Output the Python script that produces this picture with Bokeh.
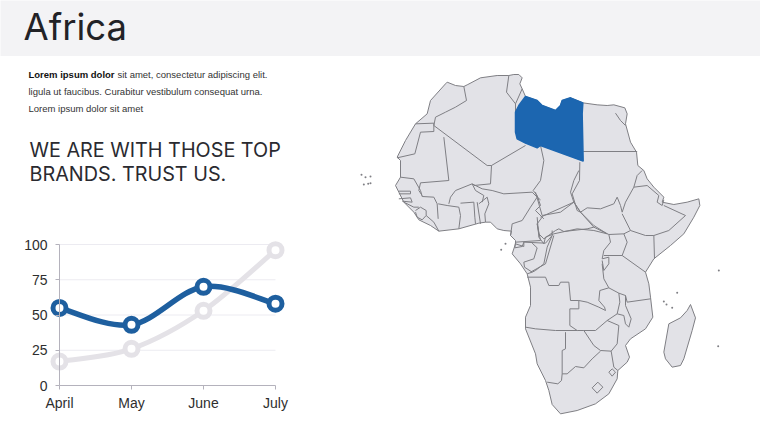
from bokeh.plotting import figure
from bokeh.layouts import column, row
from bokeh.models import Range1d, LinearAxis, FixedTicker
from bokeh.core.properties import value
from bokeh.embed import file_html
from bokeh.resources import INLINE

# ---- chart data
months = ["April", "May", "June", "July"]
blue_values = [55, 43, 70, 58]
grey_values = [17, 26, 53, 96]
y_ticks = [0, 25, 50, 75, 100]

# ---- texts
title_text = "Africa"
intro_bold = "Lorem ipsum dolor"
intro_rest = "sit amet, consectetur  adipiscing elit."
intro_2 = "ligula ut faucibus.  Curabitur vestibulum  consequat  urna."
intro_3 = "Lorem ipsum dolor sit amet"
heading_1 = "WE ARE WITH THOSE TOP"
heading_2 = "BRANDS. TRUST US."

# ---- map geometry, traced in four views of the map: (left, top) of each view, 3 units per pixel
NORTH = (380, 70)
SOUTH = (480, 230)
WEST = (355, 160)
EAST = (530, 170)

def v(view, pts):
    return [(view[0] + a / 3, view[1] + b / 3) for a, b in pts]

coast = (
    v(NORTH, [(200,35),(225,45),(250,48),(262,42),(300,22),(350,15),(385,15),(400,12),(415,12),(425,22),(418,40),(425,55),(435,78),
              (470,90),(485,105),(525,120),(540,105),(545,90),(570,82),(607,97),(650,103),(680,105),(700,103),(733,112),(740,130),
              (735,160),(750,215),(768,245),(772,285),(790,300),(800,325),(820,350),(850,380),(845,395),(880,402),(920,395),(955,385)])
    + v(EAST, [(505,85),(508,105),(490,140),(460,190),(420,225),(370,265),(345,305)])
    + v(SOUTH, [(495,125),(505,160),(510,200),(517,260),(495,295),(450,325),(435,345),(447,380),(440,395),(412,420),(410,445),
                (385,490),(345,520),(290,540),(240,550),(215,522),(205,480),(195,450),(170,400),(165,370),(135,295),(135,260),
                (150,225),(150,170),(140,130),(120,100),(95,70),(105,40)])
    + v(WEST, [(480,240),(465,225),(468,212),(445,210),(425,205),(405,185),(390,185),(370,188),(310,205),(250,212),(225,195),
               (190,178),(175,155),(145,125),(130,95),(120,75),(135,50),(135,0)])
    + v(NORTH, [(50,260),(75,210),(105,160),(140,130),(150,90),(195,40)])
)
libya = v(NORTH, [(435,78),(470,90),(485,105),(525,120),(540,105),(545,90),(570,82),(607,97),(605,130),(608,272),(480,225),
                  (470,232),(435,218),(410,205),(405,185),(405,125),(415,105)])
madagascar = v(SOUTH, [(630,222),(645,262),(635,300),(610,385),(600,405),(575,410),(555,385),(550,365),(565,280),(600,262),(620,240)])

borders = [
    v(NORTH, [(250,48),(258,90),(225,110),(195,125),(165,140),(160,165),(320,285),(333,285),(435,225)]),
    v(NORTH, [(105,160),(160,158),(160,183),(120,185),(103,250),(50,262)]),
    v(NORTH, [(385,15),(378,65),(405,100),(405,125)]),
    v(NORTH, [(425,55),(405,100)]),
    v(NORTH, [(190,200),(205,330),(120,337),(115,360),(125,375)]),
    v(NORTH, [(333,285),(330,340),(280,345)]),
    v(NORTH, [(480,225),(490,270),(480,330),(458,360),(470,375)]),
    v(NORTH, [(608,243),(770,243)]),
    v(NORTH, [(705,128),(720,150),(735,165)]),
    v(NORTH, [(598,275),(597,330),(575,370),(590,420),(600,425)]),
    v(WEST, [(135,50),(175,55),(195,90),(200,108),(235,110),(245,130),(248,175)]),
    v(WEST, [(130,92),(165,92),(165,100),(130,100)]),
    v(WEST, [(130,115),(165,112),(170,125),(140,122)]),
    v(WEST, [(145,125),(175,140),(190,140)]),
    v(WEST, [(180,150),(195,140),(212,150),(212,165),(200,178),(185,170),(180,155)]),
    v(WEST, [(212,165),(235,185),(250,212)]),
    v(WEST, [(248,130),(275,135),(310,140),(315,165),(310,205)]),
    v(WEST, [(280,130),(285,110),(300,90),(350,70),(360,90),(385,105),(380,125)]),
    v(WEST, [(315,128),(355,125),(358,170),(360,190)]),
    v(WEST, [(365,125),(375,190)]),
    v(WEST, [(370,130),(395,110),(400,130),(388,160),(390,185)]),
    v(WEST, [(350,70),(380,85),(410,90),(445,100),(530,95),(545,110),(555,118)]),
    v(WEST, [(545,110),(525,140),(500,180),(470,190),(465,225)]),
    v(WEST, [(545,105),(555,135),(540,150),(565,175)]),
    v(WEST, [(560,170),(545,190),(555,240),(480,245)]),
    v(WEST, [(480,245),(478,262),(500,258),(505,245)]),
    v(SOUTH, [(105,40),(130,48),(130,35),(195,38)]),
    v(SOUTH, [(155,38),(170,52),(160,85),(130,95),(132,110),(155,125),(140,130)]),
    v(SOUTH, [(195,38),(215,15),(215,0)]),
    v(SOUTH, [(215,15),(200,50),(190,100),(165,120),(155,125)]),
    v(NORTH, [(470,440),(475,500),(490,520),(495,500),(520,490),(590,475),(640,480),(680,490)]),
    v(NORTH, [(480,440),(580,395),(600,425),(640,465),(680,490)]),
    v(EAST, [(15,65),(35,135),(90,125),(130,95),(120,65),(130,30),(145,0)]),
    v(EAST, [(130,95),(150,125),(170,112),(210,115),(250,100),(260,80),(270,105),(275,125),(285,95),(310,50),(320,15),(335,0)]),
    v(EAST, [(310,50),(350,45),(385,75),(380,95),(395,105),(400,88)]),
    v(EAST, [(400,105),(465,135),(415,180),(370,195),(345,195),(300,180),(275,130)]),
    v(EAST, [(370,195),(372,265)]),
    v(EAST, [(235,192),(280,190),(300,180)]),
    v(EAST, [(280,190),(290,215),(275,255),(345,305)]),
    v(EAST, [(190,170),(235,192),(240,215),(220,240),(215,265),(235,260),(235,280),(220,300),(215,270)]),
    v(EAST, [(220,255),(275,255)]),
    v(EAST, [(150,125),(190,170)]),
    v(EAST, [(40,205),(75,180),(85,175),(100,183),(170,175),(190,170)]),
    v(EAST, [(20,160),(25,190),(40,205)]),
    v(EAST, [(70,195),(45,280),(0,305)]),
    v(SOUTH, [(365,100),(370,145),(385,172),(415,188),(435,195),(440,215),(510,205)]),
    v(SOUTH, [(140,140),(195,140),(205,165),(235,165),(240,155),(265,155),(270,210),(295,210),(295,235),(268,235),(268,285),
              (290,300),(225,300),(165,295),(135,290)]),
    v(SOUTH, [(295,210),(320,215),(355,230),(375,240),(372,230),(355,210),(358,180),(385,172)]),
    v(SOUTH, [(415,188),(418,215),(410,250),(380,270),(345,300),(310,300),(290,300)]),
    v(SOUTH, [(435,195),(435,225),(452,265),(445,290),(435,280),(430,255),(410,250)]),
    v(SOUTH, [(380,270),(415,285),(410,340),(392,362)]),
    v(SOUTH, [(310,300),(340,345),(360,360),(392,362),(400,410),(412,420)]),
    v(SOUTH, [(255,305),(255,355),(245,360),(245,430),(260,430),(285,408),(310,412),(335,385),(360,362)]),
    v(SOUTH, [(245,430),(243,450),(232,460),(200,455)]),
    v(SOUTH, [(385,425),(395,415),(405,425),(395,437),(385,425)]),
    v(SOUTH, [(335,472),(352,455),(367,470),(350,488),(335,472)]),
]
islands = (v(WEST, [(18,43),(30,50),(45,48),(25,72),(38,70),(45,68),(450,250),(437,268)])
           + v(SOUTH, [(550,213),(558,222),(575,232),(590,187),(713,347),(715,120)]))

# ---- colours
BAND = "#f3f3f5"
INK = "#222226"
LAND = "#e2e2e7"
EDGE = "#7f7f84"
LIBYA = "#1c66b0"
BLUE = "#1e5f9f"
GREY = "#e4e2e7"

# ---- header
head = figure(width=760, height=56, x_range=Range1d(0, 760), y_range=Range1d(56, 0), toolbar_location=None,
              output_backend="svg", min_border=0, outline_line_color=None, x_axis_location=None, y_axis_location=None,
              background_fill_color=BAND, border_fill_color=BAND)
head.grid.visible = False
head.text([23], [26], text=[title_text], text_font=value("Inter"), text_font_size="36.5px", text_color=INK,
          text_baseline="middle")

# ---- text block
block = figure(width=340, height=169, x_range=Range1d(0, 340), y_range=Range1d(225, 56), toolbar_location=None,
               output_backend="svg", min_border=0, outline_line_color=None, x_axis_location=None, y_axis_location=None)
block.grid.visible = False
arial = value("Liberation Sans")
block.text([28], [74], text=[intro_bold], text_font=arial, text_font_style="bold", text_font_size="9.5px", text_color="#111",
           text_baseline="middle")
block.text([117], [74], text=[intro_rest], text_font=arial, text_font_size="9.5px", text_color="#333", text_baseline="middle")
block.text([28, 28], [90.5, 107.5], text=[intro_2, intro_3], text_font=arial, text_font_size="9.5px", text_color="#333",
           text_baseline="middle")
block.text([29, 29], [149, 173], text=[heading_1, heading_2], text_font=value("Inter"), text_font_size="19.8px", text_color="#2a2a30",
           text_baseline="middle")

# ---- line chart: frame fills the figure so that rings and labels are not clipped
PX_X = 72.0
PX_Y = 1.41
chart = figure(width=340, height=203, toolbar_location=None, output_backend="svg",
               x_range=Range1d(-59 / PX_X, 281 / PX_X), y_range=Range1d(-43 / PX_Y, 100 + 19 / PX_Y),
               min_border=0, outline_line_color=None, x_axis_location=None, y_axis_location=None)
chart.grid.visible = False
idx = list(range(len(months)))
xa = LinearAxis(fixed_location=0, ticker=FixedTicker(ticks=idx), bounds=(0, 3),
                major_label_overrides={i: m for i, m in enumerate(months)})
ya = LinearAxis(fixed_location=0, ticker=FixedTicker(ticks=y_ticks), bounds=(0, 100), major_label_standoff=8)
chart.add_layout(xa, "below")
chart.add_layout(ya, "left")
for a in (xa, ya):
    a.axis_line_color = "#b4b2bc"
    a.major_tick_line_color = "#b4b2bc"
    a.minor_tick_line_color = None
    a.major_tick_out = 4
    a.major_tick_in = 0
    a.major_label_text_font = "Liberation Sans"
    a.major_label_text_font_size = "14px"
    a.major_label_text_color = "#2e2e2e"
chart.segment([0] * 4, y_ticks[1:], [3] * 4, y_ticks[1:], line_color="#ecebf1", line_width=1)

def smooth(xs, ys, color, width):
    tx = [0.5 * (xs[min(i + 1, 3)] - xs[max(i - 1, 0)]) for i in range(4)]
    ty = [0.5 * (ys[min(i + 1, 3)] - ys[max(i - 1, 0)]) for i in range(4)]
    chart.bezier(xs[:-1], ys[:-1], xs[1:], ys[1:],
                 [xs[i] + tx[i] / 3 for i in range(3)], [ys[i] + ty[i] / 3 for i in range(3)],
                 [xs[i + 1] - tx[i + 1] / 3 for i in range(3)], [ys[i + 1] - ty[i + 1] / 3 for i in range(3)],
                 line_color=color, line_width=width)

smooth(idx, grey_values, GREY, 5)
chart.scatter(idx, grey_values, size=13, fill_color="white", line_color=GREY, line_width=5)
smooth(idx, blue_values, BLUE, 5.5)
chart.scatter(idx, blue_values, size=13, fill_color="white", line_color=BLUE, line_width=5)

# ---- map
atlas = figure(width=420, height=372, x_range=Range1d(340, 760), y_range=Range1d(428, 56), toolbar_location=None,
               output_backend="svg", min_border=0, outline_line_color=None, x_axis_location=None, y_axis_location=None)
atlas.grid.visible = False
for shape in (coast, madagascar):
    atlas.patch([q[0] for q in shape], [q[1] for q in shape], fill_color=LAND, line_color=EDGE, line_width=1)
atlas.multi_line([[q[0] for q in b] for b in borders], [[q[1] for q in b] for b in borders], line_color=EDGE, line_width=1)
atlas.patch([q[0] for q in libya], [q[1] for q in libya], fill_color=LIBYA, line_color=LIBYA, line_width=1.5)
atlas.scatter([q[0] for q in islands], [q[1] for q in islands], size=2, fill_color=EDGE, line_color=None)

page = column(head, row(column(block, chart, spacing=0), atlas, spacing=0), spacing=0)
open("out.html", "w").write(file_html(page, INLINE))
